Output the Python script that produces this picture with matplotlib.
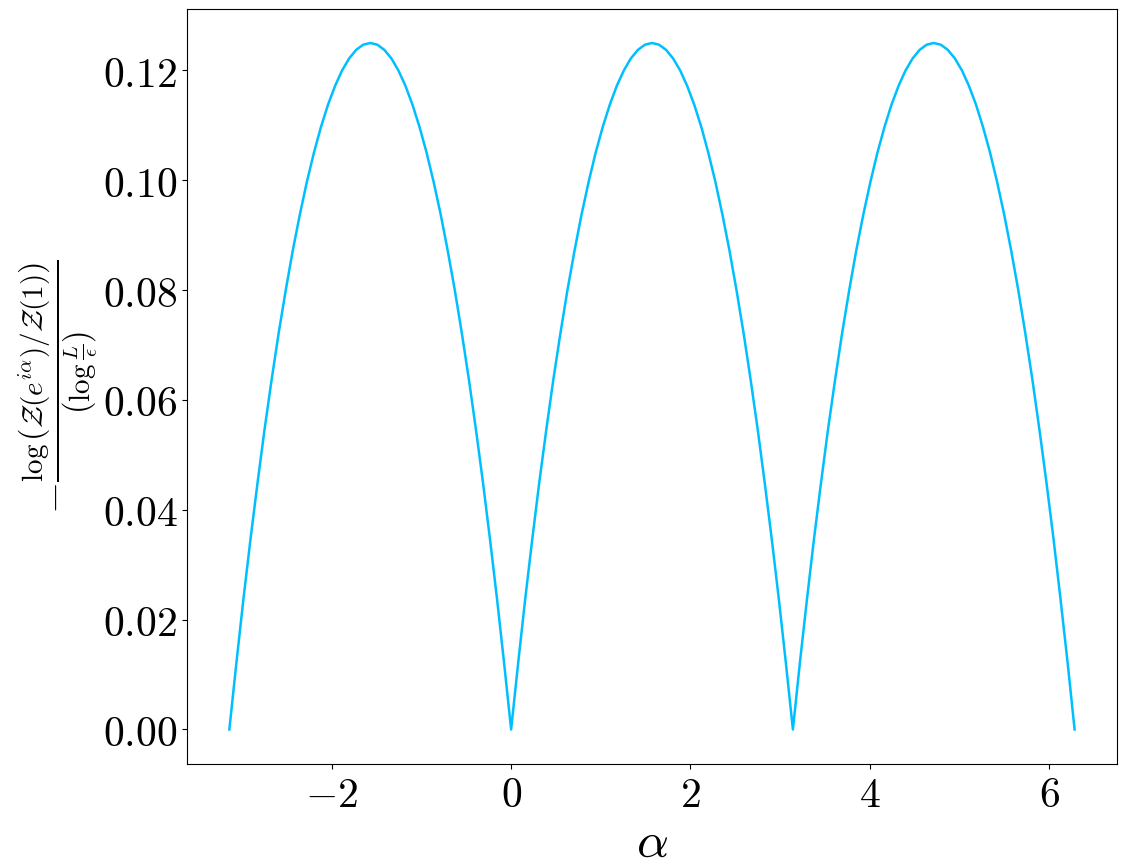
import matplotlib
matplotlib.use("Agg")
import matplotlib.pyplot as plt
from matplotlib.ticker import FuncFormatter, MultipleLocator

plt.rcParams['mathtext.fontset'] = 'cm'
plt.rcParams['font.family'] = 'serif'
plt.rcParams['font.serif'] = ['DejaVu Serif']

# alpha values
alpha = [-3.142, -3.063, -2.985, -2.906, -2.827, -2.749, -2.670, -2.592, -2.513, -2.435,
         -2.356, -2.278, -2.199, -2.121, -2.042, -1.963, -1.885, -1.806, -1.728, -1.649,
         -1.571, -1.492, -1.414, -1.335, -1.257, -1.178, -1.100, -1.021, -0.942, -0.864,
         -0.785, -0.707, -0.628, -0.550, -0.471, -0.393, -0.314, -0.236, -0.157, -0.079,
         0.000, 0.079, 0.157, 0.236, 0.314, 0.393, 0.471, 0.550, 0.628, 0.707,
         0.785, 0.864, 0.942, 1.021, 1.100, 1.178, 1.257, 1.335, 1.414, 1.492,
         1.571, 1.649, 1.728, 1.806, 1.885, 1.963, 2.042, 2.121, 2.199, 2.278,
         2.356, 2.435, 2.513, 2.592, 2.670, 2.749, 2.827, 2.906, 2.985, 3.063,
         3.142, 3.220, 3.299, 3.377, 3.456, 3.534, 3.613, 3.691, 3.770, 3.848,
         3.927, 4.006, 4.084, 4.163, 4.241, 4.320, 4.398, 4.477, 4.555, 4.634,
         4.712, 4.791, 4.869, 4.948, 5.027, 5.105, 5.184, 5.262, 5.341, 5.419,
         5.498, 5.576, 5.655, 5.733, 5.812, 5.890, 5.969, 6.048, 6.126, 6.205, 6.283]

# -log(Z(e^{i alpha})/Z(1)) / log(L/eps)
value = [0.0, 0.01219, 0.02375, 0.03469, 0.045, 0.05469, 0.06375, 0.07219, 0.08, 0.08719,
         0.09375, 0.09969, 0.105, 0.10969, 0.11375, 0.11719, 0.12, 0.12219, 0.12375, 0.12469,
         0.125, 0.12469, 0.12375, 0.12219, 0.12, 0.11719, 0.11375, 0.10969, 0.105, 0.09969,
         0.09375, 0.08719, 0.08, 0.07219, 0.06375, 0.05469, 0.045, 0.03469, 0.02375, 0.01219,
         0.0, 0.01219, 0.02375, 0.03469, 0.045, 0.05469, 0.06375, 0.07219, 0.08, 0.08719,
         0.09375, 0.09969, 0.105, 0.10969, 0.11375, 0.11719, 0.12, 0.12219, 0.12375, 0.12469,
         0.125, 0.12469, 0.12375, 0.12219, 0.12, 0.11719, 0.11375, 0.10969, 0.105, 0.09969,
         0.09375, 0.08719, 0.08, 0.07219, 0.06375, 0.05469, 0.045, 0.03469, 0.02375, 0.01219,
         0.0, 0.01219, 0.02375, 0.03469, 0.045, 0.05469, 0.06375, 0.07219, 0.08, 0.08719,
         0.09375, 0.09969, 0.105, 0.10969, 0.11375, 0.11719, 0.12, 0.12219, 0.12375, 0.12469,
         0.125, 0.12469, 0.12375, 0.12219, 0.12, 0.11719, 0.11375, 0.10969, 0.105, 0.09969,
         0.09375, 0.08719, 0.08, 0.07219, 0.06375, 0.05469, 0.045, 0.03469, 0.02375, 0.01219, 0.0]

fig = plt.figure(figsize=(11.27, 8.66), dpi=100)
ax = fig.add_axes([0.166, 0.118, 0.825, 0.872])
ax.plot(alpha, value, color='#00BFFF', lw=1.8)

ax.xaxis.set_major_locator(MultipleLocator(2))
ax.yaxis.set_major_locator(MultipleLocator(0.02))
ax.xaxis.set_major_formatter(FuncFormatter(lambda v, p: f'${v:g}$'))
ax.yaxis.set_major_formatter(FuncFormatter(lambda v, p: f'${v:.2f}$'))
ax.tick_params(labelsize=30)

ax.set_xlabel(r'$\alpha$', fontsize=36, labelpad=2)
ax.set_ylabel(r'$-\frac{\log\left(\mathcal{Z}(e^{i\alpha})/\mathcal{Z}(1)\right)}{\left(\log\frac{L}{\epsilon}\right)}$',
              fontsize=30, labelpad=2)

fig.savefig('out.png', dpi=100)
